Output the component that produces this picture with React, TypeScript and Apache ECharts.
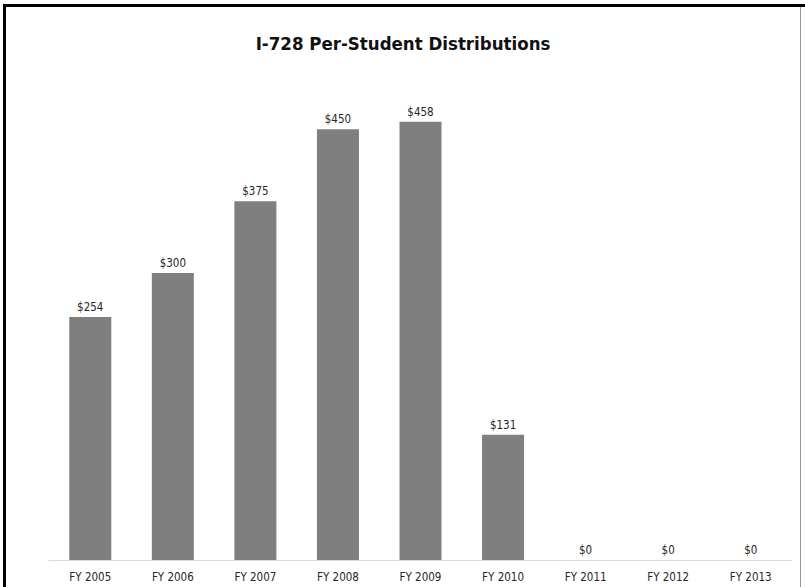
import React, { useEffect, useRef } from "react";
import * as echarts from "echarts";

const categories = ["FY 2005", "FY 2006", "FY 2007", "FY 2008", "FY 2009", "FY 2010", "FY 2011", "FY 2012", "FY 2013"];
const values = [254, 300, 375, 450, 458, 131, 0, 0, 0];
const titleText = "I-728 Per-Student Distributions";

export default function App() {
  const ref = useRef<HTMLDivElement>(null);
  useEffect(() => {
    if (!ref.current) return;
    const chart = echarts.init(ref.current, undefined, { renderer: "svg" });
    chart.setOption({
      animation: false,
      backgroundColor: "#ffffff",
      title: {
        text: titleText,
        left: 398,
        textAlign: "center",
        top: 29,
        textStyle: {
          fontFamily: "DejaVu Sans Condensed",
          fontWeight: "bold",
          fontSize: 18.5,
          color: "#111111",
        },
      },
      grid: { left: 49, right: 13, top: 81.5, bottom: 27, containLabel: false },
      xAxis: {
        type: "category",
        data: categories,
        axisLine: { show: true, lineStyle: { color: "#d9d9d9", width: 1 } },
        axisTick: { show: false },
        axisLabel: {
          fontFamily: "DejaVu Sans Condensed",
          fontSize: 11.5,
          color: "#262626",
          margin: 11,
        },
      },
      yAxis: {
        type: "value",
        min: 0,
        max: 500,
        show: false,
        splitLine: { show: false },
      },
      series: [
        {
          type: "bar",
          data: values,
          barWidth: 42,
          itemStyle: { color: "#7f7f7f" },
          label: {
            show: true,
            position: "top",
            distance: 4,
            formatter: (p: any) => "$" + p.value,
            fontFamily: "DejaVu Sans Condensed",
            fontSize: 11.5,
            color: "#262626",
          },
        },
      ],
    });
    return () => chart.dispose();
  }, []);
  return (
    <div style={{ position: "absolute", left: 0, top: 0, width: 805, height: 587, background: "#fff", overflow: "hidden" }}>
      <div ref={ref} style={{ position: "absolute", left: 0, top: 0, width: 805, height: 587 }} />
      <div style={{ position: "absolute", left: 3, top: 4, width: 3, height: 583, background: "#000" }} />
      <div style={{ position: "absolute", left: 3, top: 4, width: 802, height: 3, background: "#000" }} />
      <div style={{ position: "absolute", left: 800, top: 7, width: 1, height: 580, background: "#999" }} />
    </div>
  );
}
